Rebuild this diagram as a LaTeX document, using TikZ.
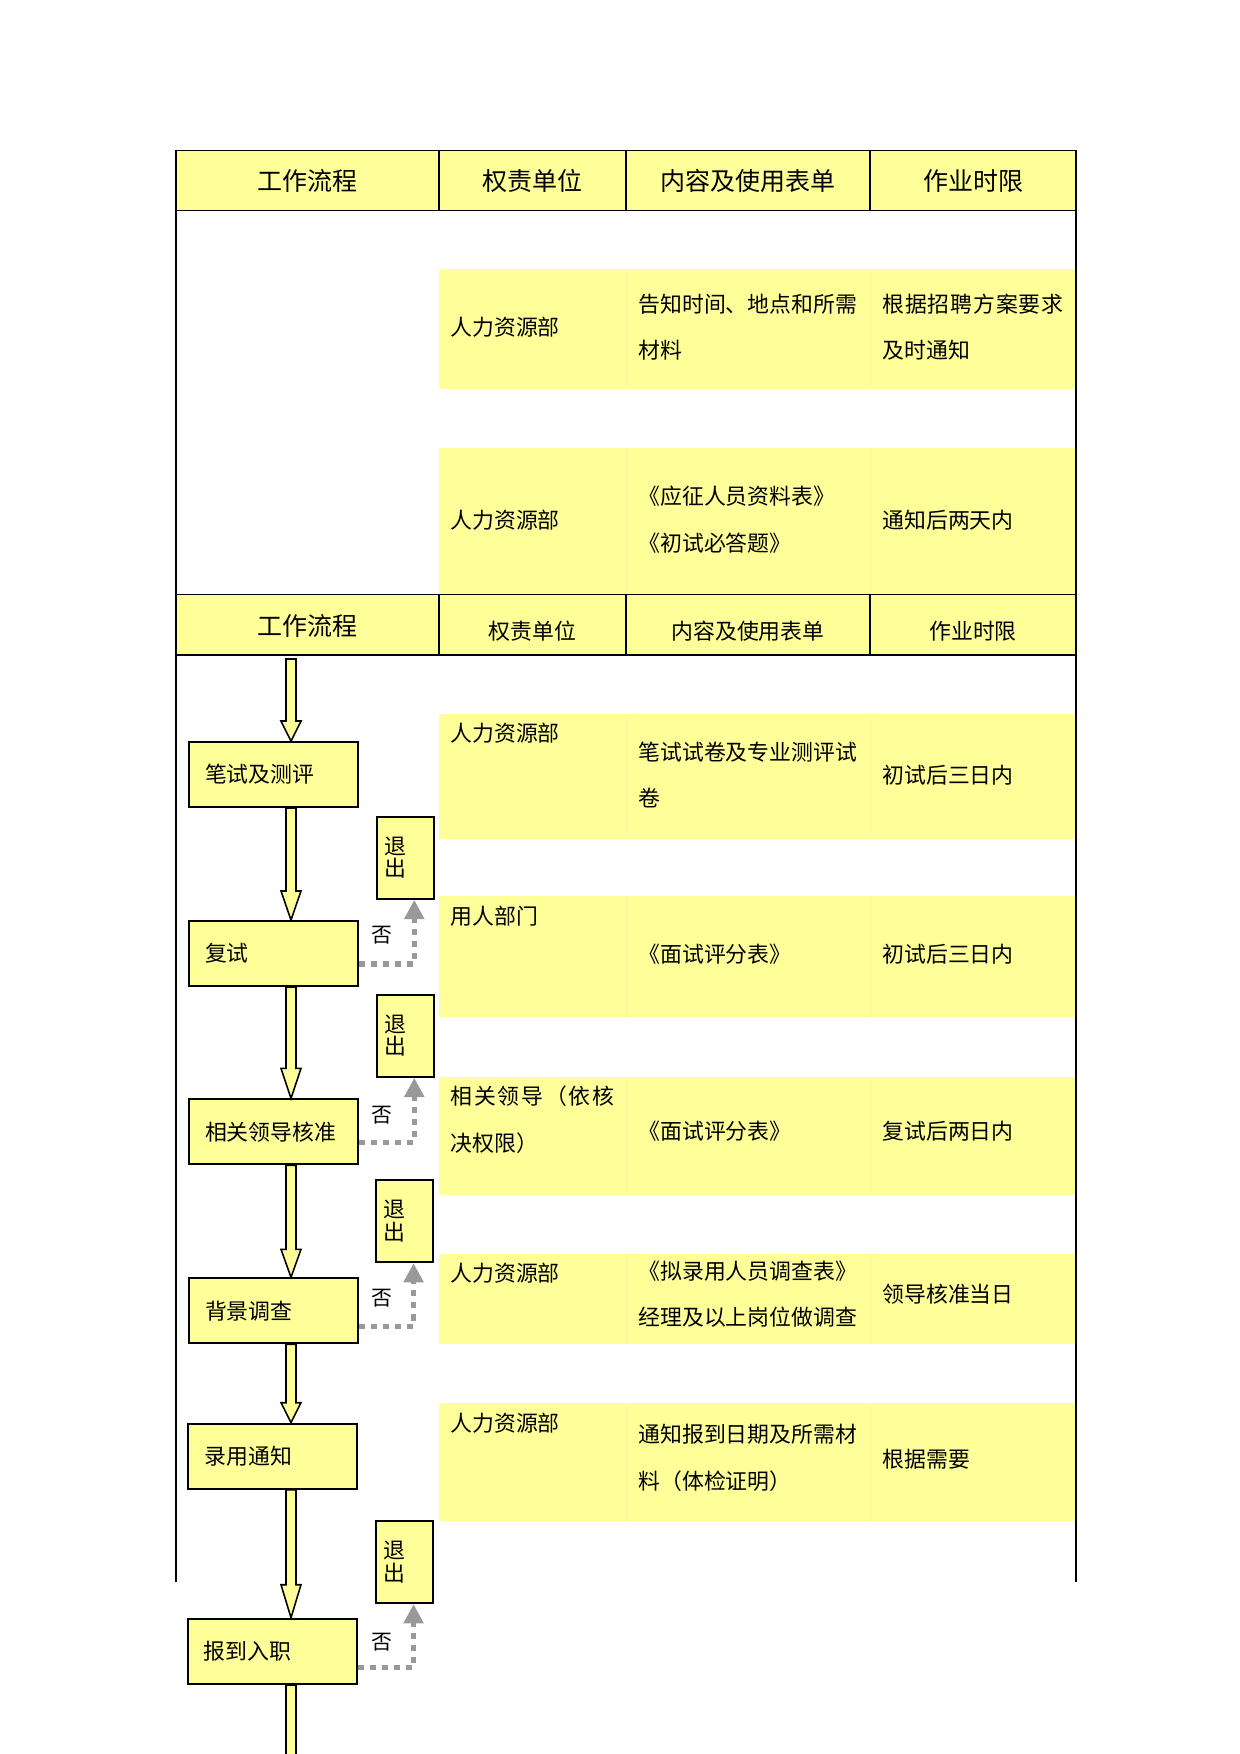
\documentclass[tikz,border=0pt]{standalone}
\usepackage{fontspec}
\setmainfont{Noto Sans CJK SC}
\usetikzlibrary{calc,arrows.meta}
\definecolor{cellyellow}{RGB}{255,255,153}
\definecolor{linegray}{RGB}{153,153,153}
\definecolor{seamyellow}{RGB}{249,249,156}

% block arrow down the flow column: from, to, head length
\newcommand{\flowarrow}[3]{%
	\draw[flowarrow] ($(flowtop |- #1)+(-5,0)$) -- ($(flowtop |- #2)+(-5,-#3)$) -- ($(flowtop |- #2)+(-10,-#3)$) -- (flowtop |- #2) -- ($(flowtop |- #2)+(10,-#3)$) -- ($(flowtop |- #2)+(5,-#3)$) -- ($(flowtop |- #1)+(5,0)$) -- cycle ;}

\begin{document}
\begin{tikzpicture}[x=0.48pt,y=0.48pt,yscale=-1,xscale=1,
	headtext/.style={font=\fontsize{12}{14}\selectfont, inner sep=0pt},
	smallhead/.style={font=\fontsize{10.5}{12}\selectfont, inner sep=0pt},
	celltext/.style={font=\fontsize{10.5}{22.3}\selectfont, inner sep=0pt, anchor=west, align=left},
	flowbox/.style={draw, line width=1pt, fill=cellyellow, anchor=north west, minimum width=81.1pt, minimum height=31.2pt, text width=65.7pt, inner xsep=7.7pt, inner ysep=0pt, align=left, font=\fontsize{10.5}{12}\selectfont},
	quitbox/.style={draw, line width=1pt, fill=cellyellow, anchor=north west, minimum width=27.4pt, minimum height=39.4pt, text width=20.2pt, inner xsep=3.6pt, inner ysep=0pt, align=left, font=\fontsize{10.5}{10.6}\selectfont},
	notext/.style={font=\fontsize{10}{12}\selectfont, inner sep=0pt},
	flowarrow/.style={draw, line width=0.75pt, fill=cellyellow},
	noline/.style={draw=linegray, line width=2.5pt, dash pattern=on 2.9pt off 2.9pt, -{Triangle[width=9.2pt,length=9.2pt]}},
	tableline/.style={line width=0.7pt},
	seam/.style={draw=seamyellow, line width=0.4pt}]
\useasboundingbox (0,0) rectangle (1240,1754);

%Shape: Header Rows
	\fill[cellyellow] (176,150.7) rectangle (1076,210.7) ;
	\fill[cellyellow] (176,594.7) rectangle (1076,655) ;
%Shape: Bands
	\fill[cellyellow] (439,269) rectangle (1076,389) ;
	\fill[cellyellow] (439,447.7) rectangle (1076,594.7) ;
	\fill[cellyellow] (439,714.3) rectangle (1076,839) ;
	\fill[cellyellow] (439,896) rectangle (1076,1017) ;
	\fill[cellyellow] (439,1076.7) rectangle (1076,1195) ;
	\fill[cellyellow] (439,1254.3) rectangle (1076,1343.7) ;
	\fill[cellyellow] (439,1402.7) rectangle (1076,1521) ;
%Shape: Seams
	\draw[seam] (626,269) -- (626,389) (870,269) -- (870,389) ;
	\draw[seam] (626,447.7) -- (626,594.7) (870,447.7) -- (870,594.7) ;
	\draw[seam] (626,714.3) -- (626,839) (870,714.3) -- (870,839) ;
	\draw[seam] (626,896) -- (626,1017) (870,896) -- (870,1017) ;
	\draw[seam] (626,1076.7) -- (626,1195) (870,1076.7) -- (870,1195) ;
	\draw[seam] (626,1254.3) -- (626,1343.7) (870,1254.3) -- (870,1343.7) ;
	\draw[seam] (626,1402.7) -- (626,1521) (870,1402.7) -- (870,1521) ;

%Straight Lines: table
	\draw[tableline] (176,1582) -- (176,150.7) -- (1076,150.7) -- (1076,1582) ;
	\draw[tableline] (176,210.7) -- (1076,210.7) ;
	\draw[tableline] (176,594.7) -- (1076,594.7) ;
	\draw[tableline] (176,655) -- (1076,655) ;
	\draw[tableline] (439,150.7) -- (439,210.7) (626,150.7) -- (626,210.7) (870,150.7) -- (870,210.7) ;
	\draw[tableline] (439,594.7) -- (439,655) (626,594.7) -- (626,655) (870,594.7) -- (870,655) ;

% Text Node
	\draw (307.5,181) node [headtext] (hflow) {工作流程};
	\draw (532.5,181) node [headtext] (hunit) {权责单位};
	\draw (748,181) node [headtext] (hform) {内容及使用表单};
	\draw (973,181) node [headtext] (htime) {作业时限};
% Text Node
	\draw (450,326.7) node [celltext] (unita) {人力资源部};
	\draw (638,327) node [celltext] (forma) {告知时间、地点和所需\\材料};
	\draw (882,327) node [celltext] (timea) {\makebox[86.9pt][s]{根\hfil 据\hfil 招\hfil 聘\hfil 方\hfil 案\hfil 要\hfil 求}\\及时通知};
% Text Node
	\draw (450,520) node [celltext] (unitb) {人力资源部};
	\draw (638,519.5) node [celltext] (formb) {《应征人员资料表》\\《初试必答题》};
	\draw (882,520) node [celltext] (timeb) {通知后两天内};
% Text Node
	\draw (307.5,625.5) node [headtext] (hflowb) {工作流程};
	\draw (532.5,631) node [smallhead] (hunitb) {权责单位};
	\draw (748,631) node [smallhead] (hformb) {内容及使用表单};
	\draw (973,631) node [smallhead] (htimeb) {作业时限};
% Text Node
	\draw (450,733) node [celltext] (unitc) {人力资源部};
	\draw (638,775) node [celltext] (formc) {笔试试卷及专业测评试\\卷};
	\draw (882,775) node [celltext] (timec) {初试后三日内};
	\draw (450,916) node [celltext] (unitd) {用人部门};
	\draw (638,954) node [celltext] (formd) {《面试评分表》};
	\draw (882,954) node [celltext] (timed) {初试后三日内};
	\draw (450,1119.7) node [celltext] (unite) {\makebox[78.7pt][s]{相\hfil 关\hfil 领\hfil 导\hfil （\hfil 依\hfil 核}\\决权限）};
	\draw (638,1131.5) node [celltext] (forme) {《面试评分表》};
	\draw (882,1131.5) node [celltext] (timee) {复试后两日内};
	\draw (450,1273.3) node [celltext] (unitf) {人力资源部};
	\draw (638,1294) node [celltext] (formf) {《拟录用人员调查表》\\经理及以上岗位做调查};
	\draw (882,1294.6) node [celltext] (timef) {领导核准当日};
	\draw (450,1422.7) node [celltext] (unitg) {人力资源部};
	\draw (638,1458) node [celltext] (formg) {通知报到日期及所需材\\料（体检证明）};
	\draw (882,1459) node [celltext] (timeg) {根据需要};

%Shape: Flow Boxes
	\draw (188,741) node [flowbox] (bishi) {笔试及测评};
	\draw (188,920) node [flowbox] (fushi) {复试};
	\draw (188,1098.3) node [flowbox] (hezhun) {相关领导核准};
	\draw (188,1277.3) node [flowbox] (diaocha) {背景调查};
	\draw (187.3,1422.7) node [flowbox] (luyong) {录用通知};
	\draw (186.7,1617.7) node [flowbox] (ruzhi) {报到入职};
%Shape: Quit Boxes
	\draw (375.7,815.7) node [quitbox] (quita) {退\\出};
	\draw (375.7,993.7) node [quitbox] (quitb) {退\\出};
	\draw (375,1179) node [quitbox] (quitc) {退\\出};
	\draw (375,1520) node [quitbox] (quitd) {退\\出};

%Block Arrows
	\coordinate (flowtop) at (291,659) ;
	\coordinate (flowend) at (291,1765) ;
	\flowarrow{flowtop}{bishi.north}{20}
	\flowarrow{bishi.south}{fushi.north}{29}
	\flowarrow{fushi.south}{hezhun.north}{30}
	\flowarrow{hezhun.south}{diaocha.north}{28}
	\flowarrow{diaocha.south}{luyong.north}{20}
	\flowarrow{luyong.south}{ruzhi.north}{33}
	\draw[flowarrow] ($(flowtop |- ruzhi.south)+(-5,0)$) rectangle ($(flowend)+(5,0)$) ;

%Dotted Lines
	\draw[noline] ($(fushi.south east)+(0,-23)$) -| ($(quita.south)+(9,0)$) ;
	\draw[noline] ($(hezhun.south east)+(0,-23)$) -| ($(quitb.south)+(9,0)$) ;
	\draw[noline] ($(diaocha.south east)+(0,-18)$) -| ($(quitc.south)+(9,0)$) ;
	\draw[noline] ($(ruzhi.south east)+(0,-17)$) -| ($(quitd.south)+(9,0)$) ;

% Text Node
	\draw (382,935) node [notext] (noa) {否};
	\draw (382,1115) node [notext] (nob) {否};
	\draw (382,1298) node [notext] (noc) {否};
	\draw (382,1642) node [notext] (nod) {否};

\end{tikzpicture}
\end{document}
